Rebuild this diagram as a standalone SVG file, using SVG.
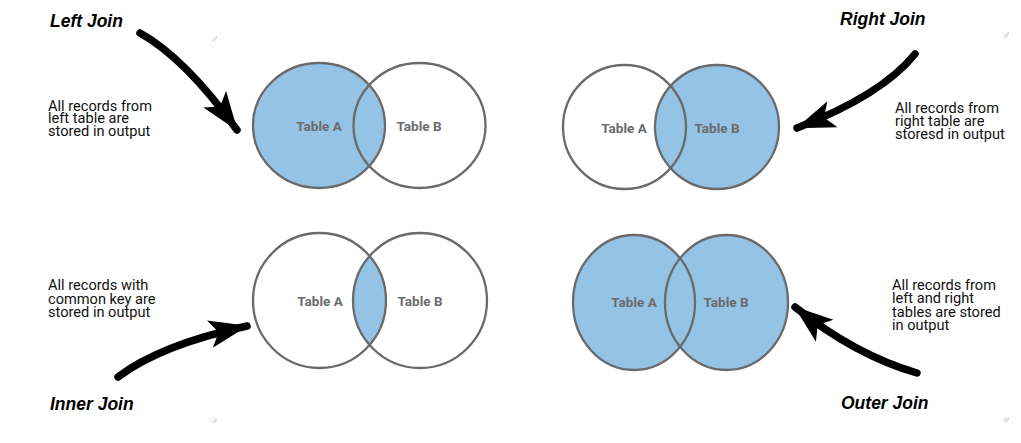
<svg xmlns="http://www.w3.org/2000/svg" width="1021" height="443" viewBox="0 0 1021 443">
<style>
.bg{fill:#ffffff}
.c{stroke:#6a6a6a;stroke-width:2.3;fill:none}
.f{fill:#94c3e6;stroke:none}
.lbl{font-family:Roboto,"Liberation Sans",sans-serif;font-weight:700;font-size:13.5px;fill:#6b6b6b;text-anchor:middle}
.title{font-family:"Liberation Sans",Arial,sans-serif;font-weight:700;font-style:italic;font-size:17.5px;fill:#000}
.desc{font-family:Roboto,"Liberation Sans",sans-serif;font-size:14.6px;fill:#111}
.arr{stroke:#000;stroke-width:7.5;fill:none;stroke-linecap:round}
.mk{stroke:#b8b8b8;stroke-width:0.8}
</style>
<defs>
<marker id="head" markerUnits="userSpaceOnUse" markerWidth="42" markerHeight="30" refX="38" refY="15" orient="auto" viewBox="0 0 42 30">
<path d="M0,1 L39,15 L0,29 L9,15 Z" fill="#000"/>
</marker>
<clipPath id="innerA"><ellipse cx="319.5" cy="300.5" rx="66.5" ry="67.5"/></clipPath>
</defs>
<rect class="bg" x="0" y="0" width="1021" height="443"/>

<g id="left-join">
<text class="title" x="50" y="27">Left Join</text>
<text class="desc" x="48" y="110.5">All records from</text>
<text class="desc" x="48" y="123">left table are</text>
<text class="desc" x="48" y="135.5">stored in output</text>
<ellipse class="f" cx="319" cy="125.5" rx="66" ry="62.5"/>
<ellipse class="c" cx="319" cy="125.5" rx="66" ry="62.5"/>
<ellipse class="c" cx="419.5" cy="125.5" rx="66" ry="62.5"/>
<text class="lbl" x="319" y="131">Table A</text>
<text class="lbl" x="419" y="131">Table B</text>
</g>

<g id="right-join">
<text class="title" x="840" y="25">Right Join</text>
<text class="desc" x="895" y="112.5">All records from</text>
<text class="desc" x="895" y="125.5">right table are</text>
<text class="desc" x="895" y="139">storesd in output</text>
<ellipse class="f" cx="717" cy="127" rx="62" ry="62"/>
<ellipse class="c" cx="624.5" cy="127" rx="61.5" ry="62"/>
<ellipse class="c" cx="717" cy="127" rx="62" ry="62"/>
<text class="lbl" x="624" y="132.5">Table A</text>
<text class="lbl" x="717" y="132.5">Table B</text>
</g>

<g id="inner-join">
<text class="title" x="50" y="410">Inner Join</text>
<text class="desc" x="48" y="290">All records with</text>
<text class="desc" x="48" y="303.5">common key are</text>
<text class="desc" x="48" y="317">stored in output</text>
<ellipse class="f" cx="420" cy="300.5" rx="67" ry="67.5" clip-path="url(#innerA)"/>
<ellipse class="c" cx="319.5" cy="300.5" rx="66.5" ry="67.5"/>
<ellipse class="c" cx="420" cy="300.5" rx="67" ry="67.5"/>
<text class="lbl" x="320" y="305.5">Table A</text>
<text class="lbl" x="420" y="305.5">Table B</text>
</g>

<g id="outer-join">
<text class="title" x="841" y="409">Outer Join</text>
<text class="desc" x="892" y="290">All records from</text>
<text class="desc" x="892" y="303.3">left and right</text>
<text class="desc" x="892" y="316.7">tables are stored</text>
<text class="desc" x="892" y="330">in output</text>
<ellipse class="f" cx="634" cy="302.5" rx="61" ry="67.5"/>
<ellipse class="f" cx="726.5" cy="302.5" rx="61.5" ry="67.5"/>
<ellipse class="c" cx="634" cy="302.5" rx="61" ry="67.5"/>
<ellipse class="c" cx="726.5" cy="302.5" rx="61.5" ry="67.5"/>
<text class="lbl" x="634" y="307">Table A</text>
<text class="lbl" x="726" y="307">Table B</text>
</g>

<g id="connectors">
<path class="arr" d="M140,33 Q185,58 237,130" marker-end="url(#head)"/>
<path class="arr" d="M915,54 Q882,95 797,128" marker-end="url(#head)"/>
<path class="arr" d="M118,377 Q160,345 247,326" marker-end="url(#head)"/>
<path class="arr" d="M917,373 Q855,355 795,307" marker-end="url(#head)"/>
</g>

<g id="marks">
<path class="mk" d="M212,41 L217,36 M214,41 L217,38"/>
<path class="mk" d="M1004,37 L1009,32 M1006,37 L1009,34"/>
<path class="mk" d="M212,423 L217,418 M214,423 L217,420"/>
<path class="mk" d="M1004,422 L1009,417 M1006,422 L1009,419"/>
</g>
</svg>
